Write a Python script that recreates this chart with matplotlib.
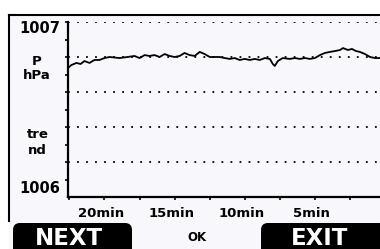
import matplotlib
matplotlib.use('Agg')
import matplotlib.pyplot as plt
import matplotlib.transforms as mtransforms
from matplotlib.patches import FancyBboxPatch, Rectangle
from matplotlib.lines import Line2D

# pressure trend, minutes before now
minutes = [-22.6, -22.36, -22.0, -21.7, -21.43, -21.07, -20.71, -20.36, -20.0, -19.64,
           -18.93, -18.36, -17.86, -17.5, -17.14, -16.79, -16.43, -16.07, -15.71, -15.36,
           -15.0, -14.64, -14.29, -13.93, -13.57, -13.21, -12.86, -12.5, -11.79, -11.43,
           -11.07, -10.71, -10.36, -10.0, -9.64, -9.29, -8.93, -8.57, -8.21, -8.0,
           -7.86, -7.64, -7.29, -6.79, -6.43, -6.07, -5.71, -5.36, -5.0, -4.64,
           -4.29, -3.93, -3.57, -3.21, -3.0, -2.64, -2.36, -2.07, -1.79, -1.43,
           -1.07, -0.71, -0.36]
pressure = [1006.737, 1006.754, 1006.766, 1006.760, 1006.777, 1006.766, 1006.783, 1006.783, 1006.794, 1006.800,
            1006.794, 1006.800, 1006.806, 1006.794, 1006.811, 1006.806, 1006.811, 1006.800, 1006.817, 1006.806,
            1006.800, 1006.806, 1006.823, 1006.811, 1006.806, 1006.829, 1006.817, 1006.800, 1006.800, 1006.794,
            1006.789, 1006.794, 1006.783, 1006.789, 1006.783, 1006.789, 1006.783, 1006.794, 1006.789, 1006.760,
            1006.749, 1006.777, 1006.794, 1006.789, 1006.794, 1006.789, 1006.794, 1006.789, 1006.794, 1006.811,
            1006.823, 1006.829, 1006.834, 1006.840, 1006.851, 1006.840, 1006.846, 1006.834, 1006.829, 1006.817,
            1006.800, 1006.794, 1006.794]

grid_levels = [1006.2, 1006.4, 1006.6, 1006.8, 1007.0]
time_ticks = [-20, -15, -10, -5]
time_labels = ['20min', '15min', '10min', '5min']
minor_time_ticks = [-22.5, -17.5, -12.5, -7.5, -2.5]
minor_p_ticks = [1006.1, 1006.2, 1006.3, 1006.4, 1006.5, 1006.6, 1006.7, 1006.8, 1006.9]

W, H = 380, 249
bg = '#f8f8fc'

fig = plt.figure(figsize=(W / 100, H / 100), dpi=100)
fig.patch.set_facecolor('white')

# screen overlay in pixel coords
ui = fig.add_axes([0, 0, 1, 1], zorder=0)
ui.set_xlim(0, W)
ui.set_ylim(H, 0)
ui.axis('off')
ui.add_patch(Rectangle((9, 15), W, H, facecolor=bg, edgecolor='none'))
ui.add_line(Line2D([9, W], [15, 15], color='black', lw=1.5))
ui.add_line(Line2D([9, 9], [15, 221], color='black', lw=1.5))

bold = dict(family='DejaVu Sans', fontweight='bold', color='black')
ui.text(40, 28, '1007', ha='center', va='center', fontsize=10.5, **bold)
ui.text(37, 61, 'P', ha='center', va='center', fontsize=9.5, **bold)
ui.text(37, 75, 'hPa', ha='center', va='center', fontsize=9.5, **bold)
ui.text(38, 134, 'tre', ha='center', va='center', fontsize=9.5, **bold)
ui.text(37, 150, 'nd', ha='center', va='center', fontsize=9.5, **bold)
ui.text(40, 188, '1006', ha='center', va='center', fontsize=10.5, **bold)

# soft keys
for x0, x1, label, tx in [(13, 132, 'NEXT', 69), (261, 386, 'EXIT', 320)]:
    ui.add_patch(FancyBboxPatch((x0, 223), x1 - x0, 34,
                                boxstyle='round,pad=0,rounding_size=7',
                                facecolor='black', edgecolor='none'))
    ui.text(tx, 238, label, ha='center', va='center', fontsize=16.5,
            family='DejaVu Sans', fontweight='bold', color='white')
ui.text(197, 237, 'OK', ha='center', va='center', fontsize=8.5, **bold)

# trend plot
ax = fig.add_axes([68 / W, (H - 197) / H, (W - 68) / W, 175 / H], zorder=1)
ax.patch.set_alpha(0)
ax.set_xlim(-22.6, -0.36)
ax.set_ylim(1006.0, 1007.0)

for lev in grid_levels:
    ax.axhline(lev, color='black', lw=1.3, linestyle=(0, (1, 4)),
               dash_capstyle='butt', zorder=1)

ax.plot(minutes, pressure, color='black', lw=1.3, zorder=3)

for s in ['top', 'right']:
    ax.spines[s].set_visible(False)
for s in ['left', 'bottom']:
    ax.spines[s].set_linewidth(1.6)

ax.set_yticks([1007.0])
ax.set_yticks(minor_p_ticks, minor=True)
ax.set_yticklabels([])
ax.set_xticks(time_ticks, time_labels)
ax.set_xticks(minor_time_ticks, minor=True)
ax.tick_params(axis='both', which='both', direction='out', length=2.5, width=1.2)
ax.tick_params(axis='x', which='major', pad=5, labelsize=9.5)
for lab in ax.get_xticklabels():
    lab.set_fontweight('bold')
    lab.set_transform(lab.get_transform() +
                      mtransforms.ScaledTranslation(-3 / 100, 0, fig.dpi_scale_trans))

fig.savefig('out.png', dpi=100, facecolor=fig.get_facecolor())
